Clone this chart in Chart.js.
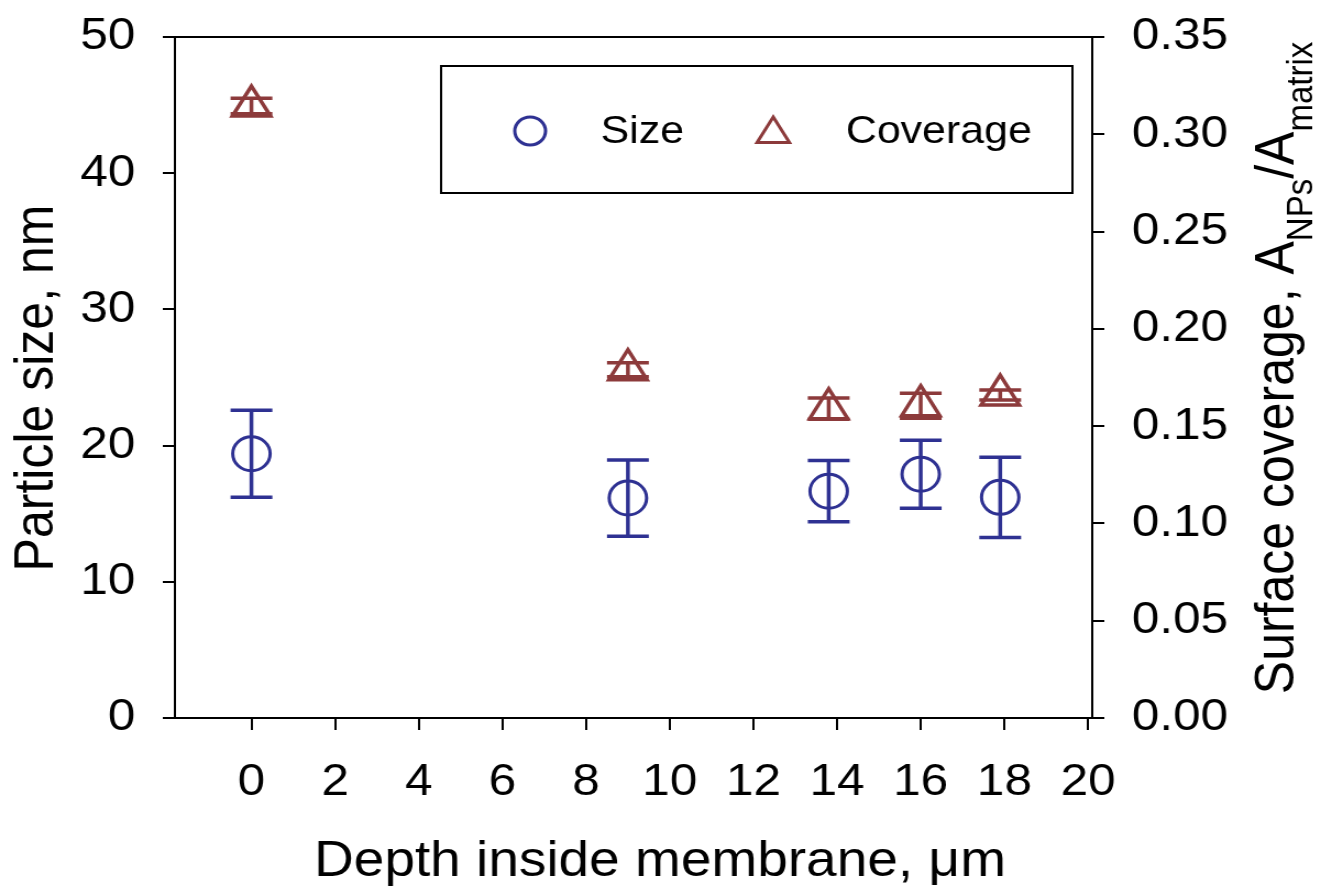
<!DOCTYPE html>
<html>
<head>
<meta charset="utf-8">
<script src="https://cdn.jsdelivr.net/npm/chart.js@4.4.0/dist/chart.umd.min.js"></script>
<style>
html,body{margin:0;padding:0;background:#fff;}
/* the original figure is a little stretched sideways, so draw narrower and stretch */
canvas{display:block;width:1321px;height:890px;}
</style>
</head>
<body>
<canvas id="myChart" width="1201" height="890" style="width:1321px;height:890px;"></canvas>
<script>
// depth inside membrane, um
var depth=[0,9,13.8,16,17.9]
// particle size, nm (with error)
var size=[19.4,16.15,16.65,17.9,16.2]
var sizeErr=[3.2,2.8,2.25,2.5,2.95]
// surface coverage (with error)
var coverage=[0.3145,0.179,0.159,0.1605,0.166]
var coverageErr=[0.004,0.0036,0.0054,0.0064,0.0026]
// tick labels
var xTicks=[0,2,4,6,8,10,12,14,16,18,20]
var sizeTicks=[0,10,20,30,40,50]
var coverageTicks=[0,0.05,0.10,0.15,0.20,0.25,0.30,0.35]

var blue="#2E3192"
var red="#8C3A3B"
var font="'Liberation Sans', Arial, sans-serif"

function pts(xs,ys){
  var out=[]
  for(var i=0;i<xs.length;i++) out.push({x:xs[i],y:ys[i]})
  return out
}

function errBars(ctx,xs,ys,vals,errs,color){
  ctx.save()
  ctx.strokeStyle=color
  ctx.lineWidth=3.5
  for(var i=0;i<vals.length;i++){
    var px=xs.getPixelForValue(depth[i])
    var top=ys.getPixelForValue(vals[i]+errs[i])
    var bot=ys.getPixelForValue(vals[i]-errs[i])
    ctx.beginPath()
    ctx.moveTo(px,top);ctx.lineTo(px,bot)
    ctx.moveTo(px-19,top);ctx.lineTo(px+19,top)
    ctx.moveTo(px-19,bot);ctx.lineTo(px+19,bot)
    ctx.stroke()
  }
  ctx.restore()
}

function triangle(ctx,x,y,r){
  ctx.beginPath()
  ctx.moveTo(x,y-r)
  ctx.lineTo(x+r*Math.sin(2*Math.PI/3),y+r/2)
  ctx.lineTo(x-r*Math.sin(2*Math.PI/3),y+r/2)
  ctx.closePath()
  ctx.stroke()
}

var extras={
  id:'extras',
  afterDatasetsDraw:function(chart){
    var ctx=chart.ctx
    errBars(ctx,chart.scales.x,chart.scales.y,size,sizeErr,blue)
    errBars(ctx,chart.scales.x,chart.scales.y1,coverage,coverageErr,red)
  },
  afterDraw:function(chart){
    var ctx=chart.ctx
    var ca=chart.chartArea
    ctx.save()
    // top frame line
    ctx.strokeStyle="#000"
    ctx.lineWidth=2
    ctx.beginPath()
    ctx.moveTo(ca.left,ca.top);ctx.lineTo(ca.right,ca.top)
    ctx.stroke()

    // legend box
    ctx.strokeRect(401,66,574,127)
    ctx.lineWidth=3
    ctx.strokeStyle=blue
    ctx.beginPath()
    ctx.arc(482,131,14,0,Math.PI*2)
    ctx.stroke()
    ctx.strokeStyle=red
    triangle(ctx,703,134,17)
    ctx.fillStyle="#000"
    ctx.font="39px "+font
    ctx.textBaseline="middle"
    ctx.textAlign="left"
    ctx.fillText("Size",546,132)
    ctx.fillText("Coverage",769,132)

    // x title
    ctx.font="50px "+font
    ctx.textAlign="center"
    ctx.textBaseline="alphabetic"
    ctx.fillText("Depth inside membrane, \u03BCm",600,876)

    // left title
    ctx.save()
    ctx.translate(48,388)
    ctx.rotate(-Math.PI/2)
    ctx.fillText("Particle size, nm",0,0)
    ctx.restore()

    // right title with subscripts
    var parts=[["Surface coverage, A",50,0],["NPs",33,17],["/A",50,0],["matrix",33,17]]
    var total=0
    parts.forEach(function(p){ctx.font=p[1]+"px "+font;total+=ctx.measureText(p[0]).width})
    ctx.save()
    ctx.translate(1176,368)
    ctx.rotate(-Math.PI/2)
    ctx.textAlign="left"
    var x=-total/2
    parts.forEach(function(p){
      ctx.font=p[1]+"px "+font
      ctx.fillText(p[0],x,p[2])
      x+=ctx.measureText(p[0]).width
    })
    ctx.restore()
    ctx.restore()
  }
}

function axisGrid(len){
  return {drawOnChartArea:false,drawTicks:true,tickLength:len,color:"#000",lineWidth:2}
}

// fixed axis box sizes, no extra room for half labels
function fixBox(w,h){
  return function(s){
    if(w) s.width=w
    if(h) s.height=h
    s.paddingTop=0;s.paddingBottom=0;s.paddingLeft=0;s.paddingRight=0
  }
}

var mychart=document.getElementById("myChart").getContext('2d')
var chart=new Chart(mychart,{
  type:'scatter',
  data:{
    datasets:[{
      label:"Size",
      data:pts(depth,size),
      yAxisID:'y',
      pointStyle:'circle',
      pointRadius:17,
      pointBorderWidth:3,
      borderColor:blue,
      backgroundColor:'rgba(0,0,0,0)'
    },
    {
      label:"Coverage",
      data:pts(depth,coverage),
      yAxisID:'y1',
      pointStyle:'triangle',
      pointRadius:20,
      pointBorderWidth:3.5,
      borderColor:red,
      backgroundColor:'rgba(0,0,0,0)'
    }]
  },
  options:{
    responsive:false,
    animation:false,
    devicePixelRatio:1,
    layout:{padding:{top:37,left:0,right:0,bottom:0}},
    plugins:{legend:{display:false},tooltip:{enabled:false}},
    scales:{
      x:{
        type:'linear',position:'bottom',min:-1.83,max:20.1,
        afterBuildTicks:function(s){s.ticks=xTicks.map(function(v){return {value:v}})},
        afterFit:fixBox(0,172),
        ticks:{color:"#000",font:{size:45,family:font},padding:26,maxRotation:0,autoSkip:false},
        grid:axisGrid(12),
        border:{color:"#000",width:2}
      },
      y:{
        type:'linear',position:'left',min:0,max:50,
        afterBuildTicks:function(s){s.ticks=sizeTicks.map(function(v){return {value:v}})},
        afterFit:fixBox(159,0),
        ticks:{color:"#000",font:{size:45,family:font},padding:25},
        grid:axisGrid(11),
        border:{color:"#000",width:2}
      },
      y1:{
        type:'linear',position:'right',min:0,max:0.35,
        afterBuildTicks:function(s){s.ticks=coverageTicks.map(function(v){return {value:v}})},
        afterFit:fixBox(208,0),
        ticks:{color:"#000",font:{size:45,family:font},padding:25,callback:function(v){return v.toFixed(2)}},
        grid:axisGrid(11),
        border:{color:"#000",width:2}
      }
    }
  },
  plugins:[extras]
})
</script>
</body>
</html>
